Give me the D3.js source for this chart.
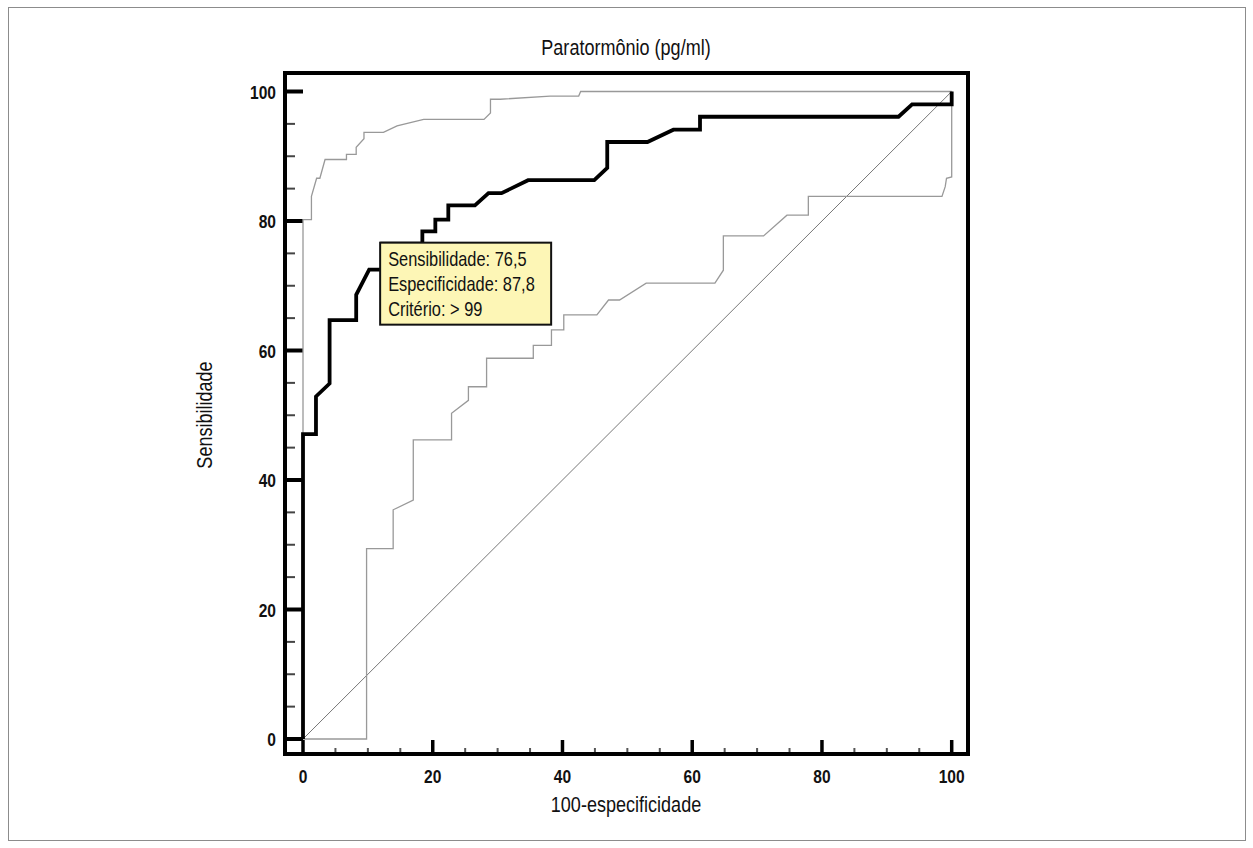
<!DOCTYPE html>
<html lang="pt">
<head>
  <meta charset="UTF-8">
  <title>Paratormônio ROC</title>
  <script src="https://d3js.org/d3.v7.min.js"></script>
  <style>
    body { margin: 0; background: #fff; }
    svg { display: block; }
  </style>
</head>
<body>
<div id="chart"></div>
<script>
  // ---- data ----
  const rocX = [0, 0, 2.0, 2.0, 4.1, 4.1, 8.2, 8.2, 10.2, 12.2, 12.2, 18.4, 18.4, 20.4, 20.4, 22.4, 22.4, 26.5, 28.6, 30.6, 34.7, 44.9, 46.9, 46.9, 53.1, 57.1, 61.2, 61.2, 91.8, 93.9, 100, 100];
  const rocY = [0, 47.1, 47.1, 52.9, 54.9, 64.7, 64.7, 68.6, 72.5, 72.5, 76.5, 76.5, 78.4, 78.4, 80.2, 80.2, 82.4, 82.4, 84.3, 84.3, 86.3, 86.3, 88.2, 92.2, 92.2, 94.1, 94.1, 96.1, 96.1, 98.0, 98.0, 100];

  const upperX = [0, 0, 1.3, 1.3, 2.1, 2.6, 3.4, 6.7, 6.7, 8.2, 8.2, 9.4, 9.4, 12.4, 14.5, 18.6, 27.9, 28.9, 28.9, 30.4, 38.1, 42.5, 42.8, 100];
  const upperY = [0, 80.2, 80.2, 83.8, 86.6, 86.6, 89.5, 89.5, 90.3, 90.3, 91.4, 92.7, 93.7, 93.7, 94.7, 95.7, 95.7, 96.7, 98.8, 98.8, 99.3, 99.3, 100, 100];

  const lowerX = [0, 9.8, 9.8, 13.9, 13.9, 17.0, 17.0, 22.9, 22.9, 25.5, 25.5, 28.3, 28.3, 35.5, 35.5, 38.3, 38.3, 40.2, 40.2, 45.3, 47.1, 48.8, 52.9, 63.5, 64.8, 64.8, 71.0, 74.6, 77.9, 77.9, 98.5, 99.0, 99.2, 100, 100];
  const lowerY = [0, 0, 29.4, 29.4, 35.4, 36.9, 46.2, 46.2, 50.3, 52.3, 54.4, 54.4, 58.8, 58.8, 60.8, 60.8, 63.2, 63.2, 65.5, 65.5, 67.8, 67.8, 70.4, 70.4, 72.4, 77.7, 77.7, 80.9, 80.9, 83.8, 83.8, 85.3, 86.6, 86.8, 100];

  const diagX = [0, 100];
  const diagY = [0, 100];

  const xTickLabels = [0, 20, 40, 60, 80, 100];
  const yTickLabels = [0, 20, 40, 60, 80, 100];

  const critFpr = 12.2, critSens = 76.5;
  const infoLines = ["Sensibilidade: 76,5", "Especificidade: 87,8", "Critério: > 99"];

  const title = "Paratormônio (pg/ml)";
  const xTitle = "100-especificidade";
  const yTitle = "Sensibilidade";

  // ---- layout ----
  const width = 1253, height = 848;

  const svg = d3.select("#chart").append("svg")
    .attr("width", width)
    .attr("height", height);

  // narrow font if present, else squeeze the regular one
  const probe = svg.append("text").style("font-size", "20px");
  probe.style("font-family", "'Liberation Sans Narrow'").text("Sensibilidade");
  const wNarrow = probe.node().getComputedTextLength();
  probe.style("font-family", "'Liberation Sans'");
  const wReg = probe.node().getComputedTextLength();
  probe.remove();
  const hasNarrow = wNarrow < wReg * 0.9;
  const family = hasNarrow ? "'Liberation Sans Narrow', sans-serif" : "'Liberation Sans', Arial, sans-serif";
  const sx = hasNarrow ? 1 : 0.82;

  function label(px, py, str, size, anchor, weight, rot) {
    return svg.append("text")
      .attr("transform", `translate(${px},${py})${rot ? ` rotate(${rot})` : ""} scale(${sx},1)`)
      .attr("text-anchor", anchor)
      .style("font-family", family)
      .style("font-size", size + "px")
      .style("font-weight", weight || "normal")
      .style("fill", "#111")
      .text(str);
  }

  const x = d3.scaleLinear().domain([0, 100]).range([303, 951.7]);
  const y = d3.scaleLinear().domain([0, 100]).range([739, 91.5]);

  // outer figure border
  svg.append("rect")
    .attr("x", 8.5).attr("y", 7.5)
    .attr("width", 1237).attr("height", 833)
    .attr("fill", "none")
    .attr("stroke", "#8c8c8c")
    .attr("stroke-width", 1);

  const frameL = x(0) - 18, frameR = x(100) + 16.3,
        frameT = y(100) - 18.5, frameB = y(0) + 15;

  // ticks
  const minor = d3.range(5, 100, 5).filter(v => v % 20 !== 0);

  svg.append("g").selectAll("line")
    .data(yTickLabels)
    .enter().append("line")
    .attr("x1", frameL).attr("x2", x(0))
    .attr("y1", d => y(d)).attr("y2", d => y(d))
    .attr("stroke", "#000").attr("stroke-width", 4);

  svg.append("g").selectAll("line")
    .data(minor)
    .enter().append("line")
    .attr("x1", frameL).attr("x2", frameL + 10)
    .attr("y1", d => y(d)).attr("y2", d => y(d))
    .attr("stroke", "#444").attr("stroke-width", 2);

  svg.append("g").selectAll("line")
    .data(xTickLabels)
    .enter().append("line")
    .attr("x1", d => x(d)).attr("x2", d => x(d))
    .attr("y1", frameB).attr("y2", frameB - 14)
    .attr("stroke", "#000").attr("stroke-width", 3.5);

  svg.append("g").selectAll("line")
    .data(minor)
    .enter().append("line")
    .attr("x1", d => x(d)).attr("x2", d => x(d))
    .attr("y1", frameB).attr("y2", frameB - 6)
    .attr("stroke", "#555").attr("stroke-width", 2);

  // frame
  svg.append("rect")
    .attr("x", frameL).attr("y", frameT)
    .attr("width", frameR - frameL).attr("height", frameB - frameT)
    .attr("fill", "none")
    .attr("stroke", "#000")
    .attr("stroke-width", 4);

  const line = d3.line().x(d => x(d[0])).y(d => y(d[1]));
  const zip = (a, b) => a.map((v, i) => [v, b[i]]);

  svg.append("path")
    .attr("d", line(zip(diagX, diagY)))
    .attr("fill", "none").attr("stroke", "#777").attr("stroke-width", 1);

  svg.append("path")
    .attr("d", line(zip(lowerX, lowerY)))
    .attr("fill", "none").attr("stroke", "#999").attr("stroke-width", 1.3);

  svg.append("path")
    .attr("d", line(zip(upperX, upperY)))
    .attr("fill", "none").attr("stroke", "#999").attr("stroke-width", 1.3);

  svg.append("path")
    .attr("d", line(zip(rocX, rocY)))
    .attr("fill", "none").attr("stroke", "#000").attr("stroke-width", 3.8)
    .attr("stroke-linejoin", "miter");

  // info box at the criterion point
  const bx = x(critFpr) - 2, by = y(critSens) - 1;
  svg.append("rect")
    .attr("x", bx).attr("y", by)
    .attr("width", 171).attr("height", 82)
    .attr("fill", "#fdf6b6")
    .attr("stroke", "#111").attr("stroke-width", 2);

  infoLines.forEach((t, i) => label(bx + 8, by + 23 + i * 25, t, 20, "start"));

  // tick labels
  yTickLabels.forEach(v => label(frameL - 9, y(v) + 7, v, 19, "end", "bold"));
  xTickLabels.forEach(v => label(x(v), frameB + 29, v, 19, "middle", "bold"));

  // titles
  label(626, 55, title, 22, "middle");
  label(626, 812, xTitle, 22, "middle");
  label(212, 415, yTitle, 22, "middle", "normal", -90);
</script>
</body>
</html>
